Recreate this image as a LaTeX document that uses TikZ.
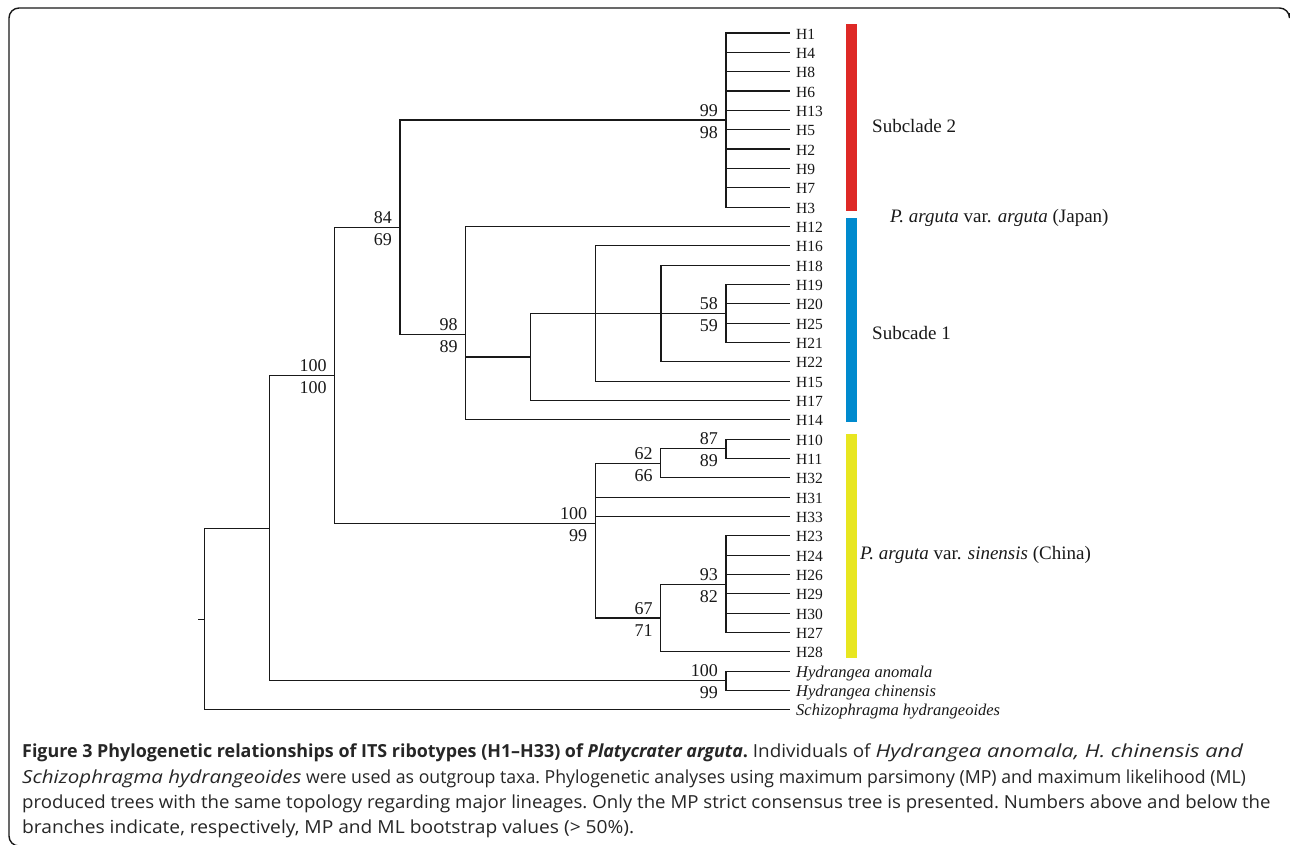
\documentclass[tikz,border=0pt]{standalone}
\usepackage{fontspec}
\setmainfont{Liberation Serif}
\newfontfamily\capfont{Open Sans}[
  UprightFeatures={FakeStretch=1.035},
  ItalicFeatures={FakeStretch=1.2},
  BoldFeatures={FakeStretch=0.98},
  BoldItalicFeatures={FakeStretch=0.98}]
\definecolor{cladered}{RGB}{222,41,38}
\definecolor{cladeblue}{RGB}{0,138,206}
\definecolor{cladeyellow}{RGB}{232,230,32}
\definecolor{ink}{RGB}{25,25,25}
\newcommand\rowy[1]{(33+19.34*(#1))}
\tikzset{
  branch/.style={line width=1.1pt, draw=ink},
  frame/.style={line width=1.4pt, draw=ink, rounded corners=10pt},
  leaf/.style={font=\fontsize{15.5}{18}\selectfont, inner sep=0pt, text=ink, anchor=base west},
  bs/.style={font=\fontsize{18}{20}\selectfont, inner sep=0pt, text=ink, anchor=base east, xshift=-8pt},
  bsa/.style={bs, yshift=4pt},
  bsb/.style={bs, yshift=-18pt},
  side/.style={font=\fontsize{19}{22}\selectfont, inner sep=0pt, text=ink, anchor=base west},
  captionline/.style={font=\capfont\fontsize{18}{21}\selectfont\frenchspacing, inner sep=0pt, text=black!85, anchor=base west}
}
\begin{document}
\begin{tikzpicture}[x=1pt,y=-1pt]
\useasboundingbox (0,0) rectangle (1290,844);
\fill[white] (0,0) rectangle (1290,844);
% frame
\draw[frame] (1289.5,13) -- (1289.5,8) -- (9,8) -- (9,846) -- (40,846);
% leaves
\foreach \i/\nm/\tx in {0/H1/H1,1/H4/H4,2/H8/H8,3/H6/H6,4/H13/H13,5/H5/H5,6/H2/H2,7/H9/H9,8/H7/H7,9/H3/H3,
  10/H12/H12,11/H16/H16,12/H18/H18,13/H19/H19,14/H20/H20,15/H25/H25,16/H21/H21,17/H22/H22,18/H15/H15,19/H17/H17,20/H14/H14,
  21/H10/H10,22/H11/H11,23/H32/H32,24/H31/H31,25/H33/H33,26/H23/H23,27/H24/H24,28/H26/H26,29/H29/H29,30/H30/H30,31/H27/H27,32/H28/H28,
  33/Hano/{\fontsize{16.5}{18}\selectfont\itshape Hydrangea anomala},
  34/Hchi/{\fontsize{16.5}{18}\selectfont\itshape Hydrangea chinensis},
  35/Ssh/{\fontsize{16.5}{18}\selectfont\itshape Schizophragma hydrangeoides}}{
  \coordinate (t\nm) at (790,{\rowy{\i}});
  \node[leaf] (\nm) at ([xshift=6pt,yshift=-6pt]t\nm) {\tx};
}
% internal nodes
\coordinate (n99) at (726,{\rowy{4.5}});
\coordinate (n58) at (726,{\rowy{14.5}});
\coordinate (nc) at (661,{\rowy{14.5}});
\coordinate (nb) at (595.7,{\rowy{14.5}});
\coordinate (na) at (530.7,{\rowy{16.75}});
\coordinate (n98) at (465.7,{\rowy{15.5833}});
\coordinate (n84) at (400,{\rowy{10.0417}});
\coordinate (n87) at (726,{\rowy{21.5}});
\coordinate (n62) at (660.7,{\rowy{22.25}});
\coordinate (n93) at (726,{\rowy{28.5}});
\coordinate (n67) at (660.7,{\rowy{30.25}});
\coordinate (n100b) at (595.3,{\rowy{25.375}});
\coordinate (nbig) at (334.7,{\rowy{17.7083}});
\coordinate (nhyd) at (726,{\rowy{33.5}});
\coordinate (n100) at (269.3,{\rowy{25.6042}});
\coordinate (root) at (204.3,{\rowy{30.3021}});
\coordinate (stub) at (198,{\rowy{30.3021}});
% edges (one path, so overlapping segments are not darkened)
\draw[branch]
  (n99) |- (tH1) (n99) |- (tH4) (n99) |- (tH8) (n99) |- (tH6) (n99) |- (tH13)
  (n99) |- (tH5) (n99) |- (tH2) (n99) |- (tH9) (n99) |- (tH7) (n99) |- (tH3)
  (n58) |- (tH19) (n58) |- (tH20) (n58) |- (tH25) (n58) |- (tH21)
  (nc) |- (tH18) (nc) -- (n58) (nc) |- (tH22)
  (nb) |- (tH16) (nb) -- (nc) (nb) |- (tH15)
  (na) |- (nb) (na) |- (tH17)
  (n98) |- (tH12) (n98) |- (na) (n98) |- (tH14)
  (n84) |- (n99) (n84) |- (n98)
  (n87) |- (tH10) (n87) |- (tH11)
  (n62) |- (n87) (n62) |- (tH32)
  (n93) |- (tH23) (n93) |- (tH24) (n93) |- (tH26) (n93) |- (tH29) (n93) |- (tH30) (n93) |- (tH27)
  (n67) |- (n93) (n67) |- (tH28)
  (n100b) |- (n62) (n100b) |- (tH31) (n100b) |- (tH33) (n100b) |- (n67)
  (nbig) |- (n84) (nbig) |- (n100b)
  (nhyd) |- (tHano) (nhyd) |- (tHchi)
  (n100) |- (nbig) (n100) |- (nhyd)
  (root) |- (n100) (root) |- (tSsh)
  (stub) -- (root);
% bootstrap values
\node[bsa] (b99a) at (n99) {99};   \node[bsb] (b99b) at (n99) {98};
\node[bsa] (b84a) at (n84) {84};   \node[bsb] (b84b) at (n84) {69};
\node[bsa] (b98a) at (n98) {98};   \node[bsb] (b98b) at (n98) {89};
\node[bsa] (b58a) at (n58) {58};   \node[bsb] (b58b) at (n58) {59};
\node[bsa] (bbiga) at (nbig) {100}; \node[bsb] (bbigb) at (nbig) {100};
\node[bsa] (b100a) at (n100b) {100}; \node[bsb] (b100b) at (n100b) {99};
\node[bsa] (b62a) at (n62) {62};   \node[bsb] (b62b) at (n62) {66};
\node[bsa] (b87a) at (n87) {87};   \node[bsb] (b87b) at (n87) {89};
\node[bsa] (b67a) at (n67) {67};   \node[bsb] (b67b) at (n67) {71};
\node[bsa] (b93a) at (n93) {93};   \node[bsb] (b93b) at (n93) {82};
\node[bsa] (bhyda) at (nhyd) {100}; \node[bsb] (bhydb) at (nhyd) {99};
% clade bars
\fill[cladered] (846,24) rectangle (857,211);
\fill[cladeblue] (846,218) rectangle (857,422);
\fill[cladeyellow] (846,434) rectangle (857,658);
% clade labels
\node[side] (sc2) at (872,132) {Subclade 2};
\node[side] (jap) at (890,222) {\textit{P. arguta} var. \textit{arguta} (Japan)};
\node[side] (sc1) at (872,339) {Subcade 1};
\node[side] (chi) at (860,559) {\textit{P. arguta} var. \textit{sinensis} (China)};
% caption
\node[captionline] (c1) at (22,757) {\scalebox{1.014}[1]{{\bfseries Figure 3 Phylogenetic relationships of ITS ribotypes (H1–H33) of \textit{Platycrater arguta}.} Individuals of \textit{Hydrangea anomala, H. chinensis and}}};
\node[captionline] (c2) at (22,783) {\scalebox{0.95}[1]{\textit{Schizophragma hydrangeoides} were used as outgroup taxa. Phylogenetic analyses using maximum parsimony (MP) and maximum likelihood (ML)}};
\node[captionline] (c3) at (22,808) {produced trees with the same topology regarding major lineages. Only the MP strict consensus tree is presented. Numbers above and below the};
\node[captionline] (c4) at (22,833) {\scalebox{1.03}[1]{branches indicate, respectively, MP and ML bootstrap values (> 50\%).}};
\end{tikzpicture}
\end{document}
